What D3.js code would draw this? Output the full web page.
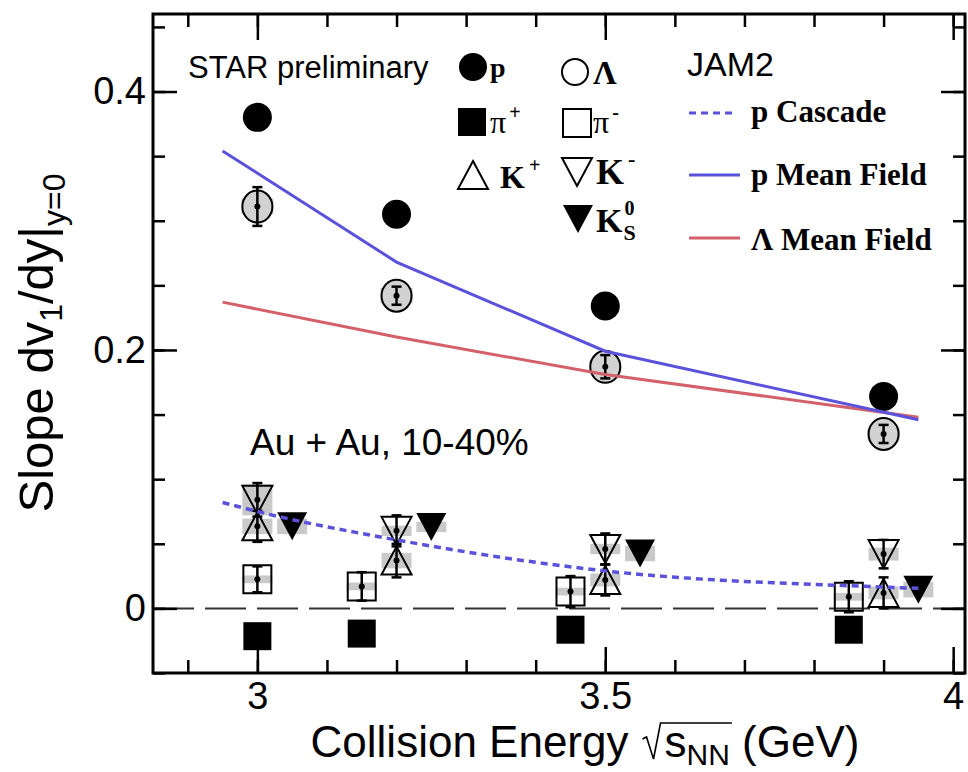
<!DOCTYPE html>
<html><head><meta charset="utf-8">
<script src="https://cdn.jsdelivr.net/npm/d3@7/dist/d3.min.js"></script>
<style>body{margin:0;background:#fff}</style>
</head><body><svg id="c" width="968" height="772"></svg>
<script>
// ---------------- data ----------------
const xTickValues = [3, 3.5, 4];
const xTickLabels = ["3", "3.5", "4"];
const xMinorTicks = [2.9, 3.0, 3.1, 3.2, 3.3, 3.4, 3.5, 3.6, 3.7, 3.8, 3.9, 4.0];
const yTickValues = [0, 0.2, 0.4];
const yTickLabels = ["0", "0.2", "0.4"];
const yMinorTicks = [-0.05, 0, 0.05, 0.1, 0.15, 0.2, 0.25, 0.3, 0.35, 0.4, 0.45];

const pX = [3.0, 3.2, 3.5, 3.9];
const pY = [0.380, 0.305, 0.234, 0.164];

const lamX = [3.0, 3.2, 3.5, 3.9];
const lamY = [0.311, 0.242, 0.187, 0.135];
const lamStat = [0.015, 0.007, 0.009, 0.007];
const lamSys = [0.006, 0.006, 0.005, 0.005];

const piPlusX = [3.0, 3.15, 3.45, 3.85];
const piPlusY = [-0.0215, -0.0195, -0.0165, -0.0165];

const piMinusX = [3.0, 3.15, 3.45, 3.85];
const piMinusY = [0.0225, 0.017, 0.013, 0.009];
const piMinusStat = [0.010, 0.011, 0.012, 0.012];
const piMinusSys = [0.003, 0.003, 0.003, 0.003];

const kPlusX = [3.0, 3.2, 3.5, 3.9];
const kPlusY = [0.0635, 0.037, 0.022, 0.012];
const kPlusStat = [0.012, 0.013, 0.012, 0.012];
const kPlusSys = [0.006, 0.006, 0.005, 0.005];

const kMinusX = [3.0, 3.2, 3.5, 3.9];
const kMinusY = [0.084, 0.060, 0.046, 0.042];
const kMinusStat = [0.013, 0.012, 0.012, 0.011];
const kMinusSys = [0.012, 0.004, 0.004, 0.005];

const k0sX = [3.05, 3.25, 3.55, 3.95];
const k0sY = [0.0635, 0.063, 0.0425, 0.0145];
const k0sSys = [0.006, 0.004, 0.006, 0.006];

const cascadeX = [2.95, 3.0, 3.2, 3.5, 3.9, 3.95];
const cascadeY = [0.082, 0.075, 0.053, 0.029, 0.0165, 0.0155];
const pMeanFieldX = [2.95, 3.2, 3.5, 3.95];
const pMeanFieldY = [0.354, 0.268, 0.199, 0.146];
const lamMeanFieldX = [2.95, 3.2, 3.5, 3.95];
const lamMeanFieldY = [0.237, 0.210, 0.181, 0.148];

// ---------------- layout ----------------
const L = 153, R = 965, T = 14, B = 673;
const svg = d3.select("#c");
const x = d3.scaleLinear().domain([2.85, 4.017]).range([L, R]);
const y = d3.scaleLinear().domain([-0.05, 0.46]).range([B, T]);
const SANS = "'Liberation Sans', Arial, Helvetica, sans-serif";
const SERIF = "'Liberation Serif', 'Times New Roman', serif";
const BLUE = "#5b52dc", RED = "#d4606a", GRAY = "#c9c9c9";

// zero line
svg.append("line").attr("x1", L).attr("x2", R).attr("y1", y(0)).attr("y2", y(0))
  .attr("stroke", "#333").attr("stroke-width", 2).attr("stroke-dasharray", "41 11");

// axes
function styleAxis(g, fs) {
  g.select(".domain").remove();
  g.selectAll(".tick line").attr("stroke", "#000").attr("stroke-width", 2.5);
  g.selectAll("text").attr("fill", "#000").style("font-family", SANS).style("font-size", fs);
}
svg.append("g").attr("transform", `translate(0,${B})`)
  .call(d3.axisBottom(x).tickValues(xTickValues).tickFormat((d, i) => xTickLabels[i]).tickSize(-26).tickPadding(9))
  .call(g => styleAxis(g, "38px"));
svg.append("g").attr("transform", `translate(0,${B})`)
  .call(d3.axisBottom(x).tickValues(xMinorTicks).tickFormat("").tickSize(-13)).call(g => styleAxis(g, "0px"));
svg.append("g").attr("transform", `translate(0,${T})`)
  .call(d3.axisTop(x).tickValues(xTickValues).tickFormat("").tickSize(-26)).call(g => styleAxis(g, "0px"));
svg.append("g").attr("transform", `translate(0,${T})`)
  .call(d3.axisTop(x).tickValues(xMinorTicks).tickFormat("").tickSize(-13)).call(g => styleAxis(g, "0px"));
svg.append("g").attr("transform", `translate(${L},0)`)
  .call(d3.axisLeft(y).tickValues(yTickValues).tickFormat((d, i) => yTickLabels[i]).tickSize(-24).tickPadding(7))
  .call(g => styleAxis(g, "38px"));
svg.append("g").attr("transform", `translate(${L},0)`)
  .call(d3.axisLeft(y).tickValues(yMinorTicks).tickFormat("").tickSize(-12)).call(g => styleAxis(g, "0px"));
svg.append("g").attr("transform", `translate(${R},0)`)
  .call(d3.axisRight(y).tickValues(yTickValues).tickFormat("").tickSize(-24)).call(g => styleAxis(g, "0px"));
svg.append("g").attr("transform", `translate(${R},0)`)
  .call(d3.axisRight(y).tickValues(yMinorTicks).tickFormat("").tickSize(-12)).call(g => styleAxis(g, "0px"));

// frame
svg.append("rect").attr("x", L).attr("y", T).attr("width", R - L).attr("height", B - T)
  .attr("fill", "none").attr("stroke", "#000").attr("stroke-width", 3);

// helpers
const zip = (xs, ys, a, b) => xs.map((v, i) => ({ x: v, y: ys[i], a: a ? a[i] : 0, b: b ? b[i] : 0 }));
function sysBoxes(data, w) {
  svg.append("g").selectAll("rect").data(data).join("rect")
    .attr("x", d => x(d.x) - w / 2).attr("width", w)
    .attr("y", d => y(d.y + d.b)).attr("height", d => y(d.y - d.b) - y(d.y + d.b))
    .attr("fill", GRAY);
}
function triPath(up, w, h) {
  return up ? `M0,${-h / 2}L${w / 2},${h / 2}L${-w / 2},${h / 2}Z` : `M0,${h / 2}L${w / 2},${-h / 2}L${-w / 2},${-h / 2}Z`;
}
function markers(data, kind, fill, stroke) {
  const g = svg.append("g");
  const sel = g.selectAll("path").data(data).join("path")
    .attr("transform", d => `translate(${x(d.x)},${y(d.y)})`)
    .attr("fill", fill).attr("stroke", stroke).attr("stroke-width", 2);
  if (kind === "circle") sel.attr("d", d3.symbol(d3.symbolCircle, Math.PI * 14.5 * 14.5)());
  if (kind === "lcircle") sel.attr("d", "M-15,0a15,16 0 1,0 30,0a15,16 0 1,0 -30,0");
  if (kind === "square") sel.attr("d", "M-14,-14H14V14H-14Z");
  if (kind === "up") sel.attr("d", triPath(true, 30, 28));
  if (kind === "down") sel.attr("d", triPath(false, 30, 28));
}
function errBars(data) {
  const g = svg.append("g").attr("stroke", "#000").attr("stroke-width", 2.5);
  data.forEach(d => {
    const cx = x(d.x), y1 = y(d.y + d.a), y2 = y(d.y - d.a);
    g.append("line").attr("x1", cx).attr("x2", cx).attr("y1", y1).attr("y2", y2);
    g.append("line").attr("x1", cx - 5).attr("x2", cx + 5).attr("y1", y1).attr("y2", y1);
    g.append("line").attr("x1", cx - 5).attr("x2", cx + 5).attr("y1", y2).attr("y2", y2);
    g.append("circle").attr("cx", cx).attr("cy", y(d.y)).attr("r", 3).attr("fill", "#000").attr("stroke", "none");
  });
}

const lam = zip(lamX, lamY, lamStat, lamSys);
const pim = zip(piMinusX, piMinusY, piMinusStat, piMinusSys);
const kp = zip(kPlusX, kPlusY, kPlusStat, kPlusSys);
const km = zip(kMinusX, kMinusY, kMinusStat, kMinusSys);
const k0 = zip(k0sX, k0sY, null, k0sSys);

sysBoxes(lam, 32); sysBoxes(pim, 30); sysBoxes(kp, 30); sysBoxes(km, 30); sysBoxes(k0, 30);

markers(zip(pX, pY), "circle", "#000", "none");
markers(lam, "lcircle", "#d2d2d2", "#000");
markers(zip(piPlusX, piPlusY), "square", "#000", "none");
markers(pim, "square", "none", "#000");
markers(kp, "up", "none", "#000");
markers(km, "down", "none", "#000");
markers(k0, "down", "#000", "none");
errBars(lam); errBars(pim); errBars(kp); errBars(km);

// model lines
const lineGen = d3.line().x(d => x(d.x)).y(d => y(d.y));
svg.append("path").datum(zip(lamMeanFieldX, lamMeanFieldY)).attr("d", lineGen)
  .attr("fill", "none").attr("stroke", RED).attr("stroke-width", 3);
svg.append("path").datum(zip(pMeanFieldX, pMeanFieldY)).attr("d", lineGen)
  .attr("fill", "none").attr("stroke", BLUE).attr("stroke-width", 3);
svg.append("path").datum(zip(cascadeX, cascadeY)).attr("d", lineGen.curve(d3.curveMonotoneX))
  .attr("fill", "none").attr("stroke", BLUE).attr("stroke-width", 3.5).attr("stroke-dasharray", "7 5");

// ---------------- texts ----------------
function txt(xp, yp, s, font, size, weight) {
  return svg.append("text").attr("x", xp).attr("y", yp).text(s)
    .style("font-family", font).style("font-size", size + "px").style("font-weight", weight || "normal");
}
txt(188, 78, "STAR preliminary", SANS, 31);
txt(250, 455, "Au + Au, 10-40%", SANS, 37);
txt(687, 76, "JAM2", SANS, 34);

// particle legend
const lg = svg.append("g");
lg.append("circle").attr("cx", 473).attr("cy", 67).attr("r", 14);
txt(490, 77, "p", SERIF, 28, "bold");
lg.append("circle").attr("cx", 575).attr("cy", 72).attr("r", 13).attr("fill", "none").attr("stroke", "#000").attr("stroke-width", 2);
txt(593, 84, "Λ", SERIF, 33, "bold");
lg.append("rect").attr("x", 458).attr("y", 108).attr("width", 28).attr("height", 28);
const t1 = txt(490, 133, "π", SERIF, 32); t1.append("tspan").attr("dy", -14).attr("dx", 3).style("font-size", "20px").style("font-weight", "bold").text("+");
lg.append("rect").attr("x", 563).attr("y", 109).attr("width", 28).attr("height", 28).attr("fill", "none").attr("stroke", "#000").attr("stroke-width", 2);
const t2 = txt(593, 133, "π", SERIF, 32); t2.append("tspan").attr("dy", -14).attr("dx", 3).style("font-size", "20px").style("font-weight", "bold").text("-");
lg.append("path").attr("transform", "translate(473,175)").attr("d", triPath(true, 30, 28)).attr("fill", "none").attr("stroke", "#000").attr("stroke-width", 2);
const t3 = txt(500, 188, "K", SERIF, 32, "bold"); t3.append("tspan").attr("dy", -16).attr("dx", 4).style("font-size", "20px").text("+");
lg.append("path").attr("transform", "translate(577,172)").attr("d", triPath(false, 30, 28)).attr("fill", "none").attr("stroke", "#000").attr("stroke-width", 2);
const t4 = txt(596, 184, "K", SERIF, 36, "bold"); t4.append("tspan").attr("dy", -18).attr("dx", 4).style("font-size", "22px").text("-");
lg.append("path").attr("transform", "translate(578,219)").attr("d", triPath(false, 30, 28));
const t5 = txt(596, 232, "K", SERIF, 34, "bold");
t5.append("tspan").attr("dy", -17).attr("dx", 2).style("font-size", "20px").text("0");
t5.append("tspan").attr("dy", 25).attr("dx", -11).style("font-size", "22px").text("S");

// model legend
svg.append("line").attr("x1", 689).attr("x2", 737).attr("y1", 113).attr("y2", 113).attr("stroke", BLUE).attr("stroke-width", 3).attr("stroke-dasharray", "7 5");
svg.append("line").attr("x1", 689).attr("x2", 740).attr("y1", 175).attr("y2", 175).attr("stroke", BLUE).attr("stroke-width", 3);
svg.append("line").attr("x1", 689).attr("x2", 740).attr("y1", 238).attr("y2", 238).attr("stroke", RED).attr("stroke-width", 3);
txt(751, 122, "p Cascade", SERIF, 31, "bold");
txt(751, 185, "p Mean Field", SERIF, 31, "bold");
txt(751, 250, "Λ Mean Field", SERIF, 31, "bold");

// y title
const yt = svg.append("text").attr("transform", "translate(53,343) rotate(-90)").attr("text-anchor", "middle")
  .style("font-family", SANS).style("font-size", "49px");
yt.append("tspan").text("Slope dv");
yt.append("tspan").style("font-size", "32px").attr("dy", 9).text("1");
yt.append("tspan").attr("dy", -9).text("/dy|");
yt.append("tspan").style("font-size", "32px").attr("dy", 12).text("y=0");

// x title
const XB = 757;
const xt = svg.append("text").attr("x", 585).attr("y", XB).attr("text-anchor", "middle")
  .style("font-family", SANS).style("font-size", "44px");
xt.append("tspan").text("Collision Energy");
xt.append("tspan").attr("dx", 36).text("s");
xt.append("tspan").attr("dy", 8).style("font-size", "30px").text("NN");
xt.append("tspan").attr("dy", -8).text(" (GeV)");
const node = xt.node();
const es = node.getExtentOfChar(16), en = node.getExtentOfChar(18);
const bx = es.x, topY = es.y + 6;
svg.append("path").attr("d", `M${bx - 22},${XB - 18}L${bx - 18},${XB - 20}L${bx - 11},${XB + 2}L${bx - 4},${topY}L${en.x + en.width + 2},${topY}`)
  .attr("fill", "none").attr("stroke", "#000").attr("stroke-width", 1.6);
</script></body></html>
